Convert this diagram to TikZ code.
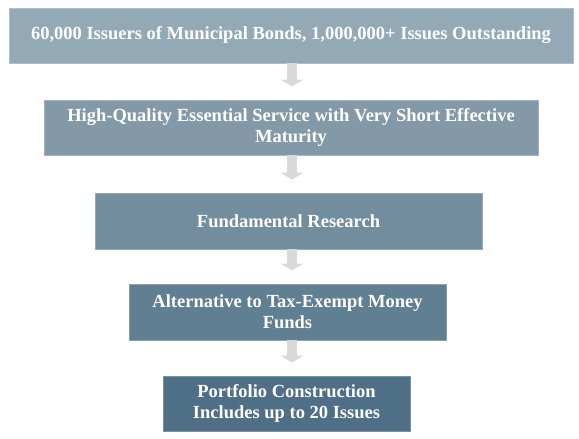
\documentclass[tikz,border=0pt]{standalone}
\usepackage{fontspec}
\setmainfont{Liberation Serif}
\usetikzlibrary{arrows.meta}
\definecolor{c1}{HTML}{93A9B6}
\definecolor{c2}{HTML}{8399A8}
\definecolor{c3}{HTML}{728E9E}
\definecolor{c4}{HTML}{607F93}
\definecolor{c5}{HTML}{4E6F86}
\definecolor{arr}{HTML}{D9D9D9}
\tikzset{
  box/.style={fill=#1, draw=#1!75!white, line width=0.7bp, inner sep=0pt, align=center,
    text=white, font=\bfseries\fontsize{18.5bp}{21bp}\selectfont},
  blockarrow/.style={draw=arr, line width=10bp, -{Triangle[width=22bp,length=7bp]}, shorten >=13bp}
}
\begin{document}
\begin{tikzpicture}[x=1bp,y=-1bp]
\useasboundingbox (0,0) rectangle (579,439);
\node[box=c1, minimum width=564bp, minimum height=55bp] (b1) at (291,35.5) {60,000 Issuers of Municipal Bonds, 1,000,000+ Issues Outstanding};
\node[box=c2, minimum width=494bp, minimum height=55bp] (b2) at (291,127.5) {High-Quality Essential Service with Very Short Effective\\Maturity};
\node[box=c3, minimum width=387bp, minimum height=56bp] (b3) at (288.5,221) {Fundamental Research};
\node[box=c4, minimum width=317bp, minimum height=56bp] (b4) at (287.5,312) {Alternative to Tax-Exempt Money\\Funds};
\node[box=c5, minimum width=247bp, minimum height=55bp] (b5) at (286.5,403.5) {Portfolio Construction\\Includes up to 20 Issues};
\coordinate (ax) at (292,0);
\draw[blockarrow] (b1.south -| ax) -- (b2.north -| ax);
\draw[blockarrow] (b2.south -| ax) -- (b3.north -| ax);
\draw[blockarrow] (b3.south -| ax) -- (b4.north -| ax);
\draw[blockarrow] (b4.south -| ax) -- (b5.north -| ax);
\end{tikzpicture}
\end{document}
